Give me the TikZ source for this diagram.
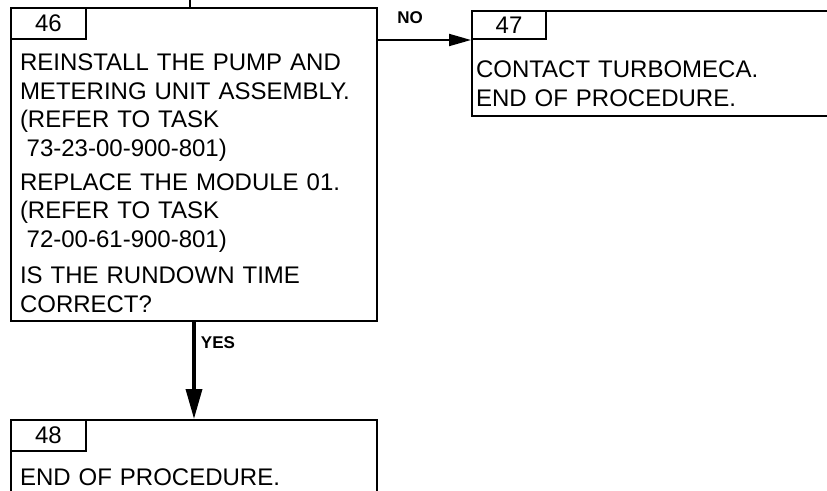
\documentclass[tikz,border=0pt]{standalone}
\usepackage{fontspec}
\setmainfont{Liberation Sans}
\usetikzlibrary{arrows.meta}

\begin{document}
\begin{tikzpicture}[x=1pt,y=-1pt,line width=2pt,>={Triangle[length=22pt,width=12pt]},
  box/.style={draw,rectangle,inner sep=0pt,anchor=north west},
  tab/.style={draw,rectangle,inner sep=0pt,anchor=north west,font=\fontsize{24}{28}\selectfont},
  txt/.style={anchor=base west,inner sep=0pt,text width=350pt,align=left,font=\fontsize{24}{28.5}\selectfont},
  lbl/.style={inner sep=0pt,font=\fontsize{17}{20}\selectfont\bfseries}]
\useasboundingbox (0,0) rectangle (827,490);
\clip (0,0) rectangle (827,490);
% step 46
\node[box,minimum width=366pt,minimum height=313pt] (box46) at (10,7) {};
\node[tab,minimum width=75pt,minimum height=31pt] (tab46) at (box46.north west) {46};
\node[txt] (txt46) at (19,70.8) {REINSTALL THE PUMP AND\\
  METERING UNIT ASSEMBLY.\\
  (REFER TO TASK\\
  \hspace*{.28em}73-23-00-900-801)\\[5.5pt]
  REPLACE THE MODULE 01.\\
  (REFER TO TASK\\
  \hspace*{.28em}72-00-61-900-801)\\[8pt]
  IS THE RUNDOWN TIME\\
  CORRECT?};
% step 47
\node[box,minimum width=370pt,minimum height=105pt] (box47) at (471,10) {};
\node[tab,minimum width=74pt,minimum height=28pt] (tab47) at (box47.north west) {47};
\node[txt] (txt47) at (475,77.2) {CONTACT TURBOMECA.\\[1pt]
  END OF PROCEDURE.};
% step 48
\node[box,minimum width=366pt,minimum height=100pt] (box48) at (10,419) {};
\node[tab,minimum width=75pt,minimum height=31pt] (tab48) at (box48.north west) {48};
\node[txt] (txt48) at (19,485.5) {END OF PROCEDURE.};
% incoming line
\coordinate (in46) at (190,-6);
\draw (in46) -- (in46 |- box46.north);
% NO branch
\draw[->] (tab46.south -| box46.east) -- (tab46.south -| box47.west);
\node[lbl] (no) at (410,18) {NO};
% YES branch
\draw[line width=3.5pt,-{Triangle[length=30pt,width=16pt]}] (box46.south) -- (box48.north);
\node[lbl] (yes) at (218,343) {YES};
\end{tikzpicture}
\end{document}
